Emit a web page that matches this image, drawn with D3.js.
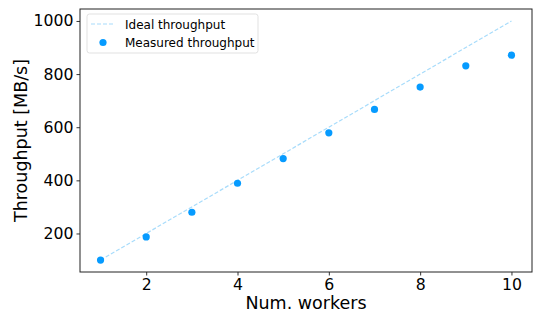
<!DOCTYPE html>
<html lang="en">
<head>
<meta charset="UTF-8">
<script src="https://d3js.org/d3.v7.min.js"></script>
<style>
  body { margin: 0; background: #fff; }
  svg { font-family: "DejaVu Sans", sans-serif; }
</style>
</head>
<body>
<div id="chart"></div>
<script>
// data
const workers = [1, 2, 3, 4, 5, 6, 7, 8, 9, 10];
const ideal = [100, 200, 300, 400, 500, 600, 700, 800, 900, 1000];
const measured = [100, 187, 280, 389, 482, 579, 667, 751, 831, 871];
const xTicks = [2, 4, 6, 8, 10];
const yTicks = [200, 400, 600, 800, 1000];

const w = 535, h = 313;
const padL = 80, padR = 532, padT = 9, padB = 272;

const svg = d3.select("#chart").append("svg")
    .attr("width", w).attr("height", h);

const x = d3.scaleLinear().domain([0.55, 10.45]).range([padL, padR]);
const y = d3.scaleLinear().domain([55, 1045]).range([padB, padT]);

// ideal line
const line = d3.line().x((d, i) => x(workers[i])).y(d => y(d));
svg.append("path")
    .datum(ideal)
    .attr("d", line)
    .attr("fill", "none")
    .attr("stroke", "#a8dcfb")
    .attr("stroke-width", 1.2)
    .attr("stroke-dasharray", "4,2");

// measured points
svg.selectAll("circle.pt")
    .data(measured)
    .enter().append("circle")
    .attr("class", "pt")
    .attr("cx", (d, i) => x(workers[i]))
    .attr("cy", d => y(d))
    .attr("r", 3.6)
    .attr("fill", "#069bff");

// axes
const xAxis = d3.axisBottom(x).tickValues(xTicks).tickFormat(d3.format("d"))
    .tickSize(3.5).tickPadding(3);
const yAxis = d3.axisLeft(y).tickValues(yTicks).tickFormat(d3.format("d"))
    .tickSize(3.5).tickPadding(3);

const gx = svg.append("g")
    .attr("transform", "translate(0," + padB + ")")
    .call(xAxis);
const gy = svg.append("g")
    .attr("transform", "translate(" + padL + ",0)")
    .call(yAxis);
[gx, gy].forEach(g => {
    g.select(".domain").remove();
    g.selectAll("text").attr("font-size", 15.7).attr("fill", "#000")
        .attr("font-family", "DejaVu Sans");
    g.selectAll("line").attr("stroke", "#000").attr("stroke-width", 0.8);
});

// frame
svg.append("rect")
    .attr("x", padL).attr("y", padT)
    .attr("width", padR - padL).attr("height", padB - padT)
    .attr("fill", "none").attr("stroke", "#222").attr("stroke-width", 1);

// labels
svg.append("text")
    .text("Num. workers")
    .attr("x", (padL + padR) / 2).attr("y", 309)
    .attr("text-anchor", "middle")
    .attr("font-size", 17.5);

svg.append("text")
    .text("Throughput [MB/s]")
    .attr("transform", "translate(27," + (padT + padB) / 2 + ") rotate(-90)")
    .attr("text-anchor", "middle")
    .attr("font-size", 17.5);

// legend
const lg = svg.append("g");
lg.append("rect")
    .attr("x", 87).attr("y", 14)
    .attr("width", 171).attr("height", 39)
    .attr("rx", 2.5)
    .attr("fill", "#fff").attr("fill-opacity", 0.8)
    .attr("stroke", "#d9d9d9").attr("stroke-width", 0.8);
lg.append("line")
    .attr("x1", 91).attr("x2", 115).attr("y1", 24).attr("y2", 24)
    .attr("stroke", "#a8dcfb").attr("stroke-width", 1.2)
    .attr("stroke-dasharray", "4,2");
lg.append("circle")
    .attr("cx", 103).attr("cy", 42.5).attr("r", 3.6)
    .attr("fill", "#069bff");
lg.append("text").text("Ideal throughput")
    .attr("x", 125).attr("y", 28.5).attr("font-size", 12);
lg.append("text").text("Measured throughput")
    .attr("x", 125).attr("y", 47).attr("font-size", 12);
</script>
</body>
</html>
